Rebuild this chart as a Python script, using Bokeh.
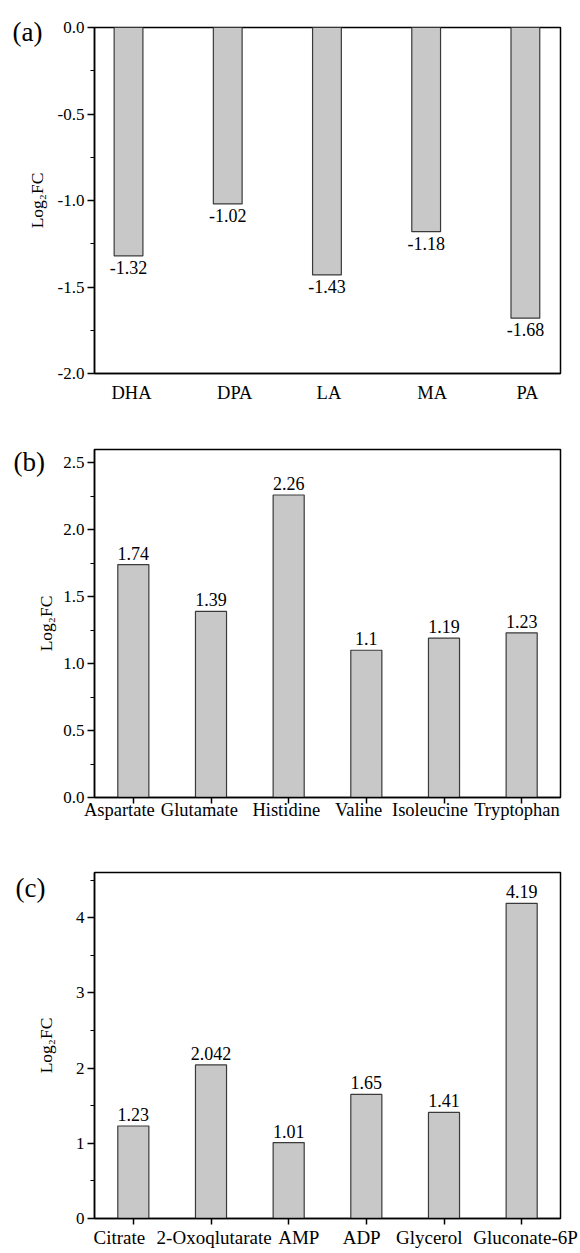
from bokeh.plotting import figure
from bokeh.layouts import column
from bokeh.models import ColumnDataSource, Range1d, FixedTicker, LinearAxis
from bokeh.core.properties import value
from bokeh.embed import file_html
from bokeh.resources import INLINE

# ---- data ----
a_cats = ["DHA", "DPA", "LA", "MA", "PA"]
a_vals = [-1.32, -1.02, -1.43, -1.18, -1.68]
a_ticks = [-2.0, -1.5, -1.0, -0.5, 0.0]
a_tick_labels = ["-2.0", "-1.5", "-1.0", "-0.5", "0.0"]

b_cats = ["Aspartate", "Glutamate", "Histidine", "Valine", "Isoleucine", "Tryptophan"]
b_vals = [1.74, 1.39, 2.26, 1.1, 1.19, 1.23]
b_ticks = [0.0, 0.5, 1.0, 1.5, 2.0, 2.5]
b_tick_labels = ["0.0", "0.5", "1.0", "1.5", "2.0", "2.5"]

c_cats = ["Citrate", "2-Oxoqlutarate", "AMP", "ADP", "Glycerol", "Gluconate-6P"]
c_vals = [1.23, 2.042, 1.01, 1.65, 1.41, 4.19]
c_ticks = [0, 1, 2, 3, 4]
c_tick_labels = ["0", "1", "2", "3", "4"]

# layout: horizontal nudges of category labels (in bar-spacing units)
a_label_shift = [0.03, 0.07, 0.02, 0.06, 0.02]
b_label_shift = [-0.18, -0.15, -0.03, -0.10, -0.18, -0.06]
c_label_shift = [-0.18, 0.04, 0.13, -0.06, -0.19, 0.05]

FONT = "Liberation Serif"
FILL = "#c8c8c8"
EDGE = "#3a3a3a"


def make_panel(cats, vals, ticks, tick_labels, shifts, yr, xr, bar_w, letter, letter_standoff,
               height, left, top, bottom, xlab_size, xticks_on, xlab_standoff, ylab_standoff, negative):
    x = list(range(len(cats)))
    src = ColumnDataSource(dict(x=x, v=vals, lab=[str(v) for v in vals]))
    p = figure(width=580, height=height, x_range=Range1d(*xr), y_range=Range1d(*yr),
               output_backend="svg", toolbar_location=None,
               min_border_left=left, min_border_right=20,
               min_border_top=top, min_border_bottom=bottom)
    p.xgrid.visible = False
    p.ygrid.visible = False
    p.outline_line_color = "black"
    p.outline_line_width = 1.5
    p.background_fill_color = "white"
    p.border_fill_color = "white"

    # panel letter as the figure title, pulled into the left margin
    p.title.text = letter
    p.title.align = "left"
    p.title.offset = 12 - left
    p.title.vertical_align = "bottom"
    p.title.standoff = letter_standoff
    p.title.text_font = FONT
    p.title.text_font_size = "27px"
    p.title.text_font_style = "normal"
    p.title.text_color = "black"

    p.vbar(x="x", top="v", bottom=0, width=bar_w, source=src,
           fill_color=FILL, line_color=EDGE, line_width=1.2)
    if negative:
        p.text(x="x", y="v", text="lab", source=src, text_align="center",
               text_baseline="top", y_offset=5, text_font=value(FONT),
               text_font_size="18px", text_color="black")
    else:
        p.text(x="x", y="v", text="lab", source=src, text_align="center",
               text_baseline="bottom", y_offset=-5, text_font=value(FONT),
               text_font_size="18px", text_color="black")

    # y axis
    step = ticks[1] - ticks[0]
    ya = p.yaxis[0]
    ya.ticker = FixedTicker(ticks=ticks,
                            minor_ticks=[t + step / 2 for t in ticks])
    ya.major_label_overrides = {t: l for t, l in zip(ticks, tick_labels)}
    ya.major_label_text_font = FONT
    ya.major_label_text_font_size = "17px"
    ya.major_label_text_color = "black"
    ya.major_tick_in = 0
    ya.major_tick_out = 7
    ya.minor_tick_in = 0
    ya.minor_tick_out = 4
    ya.major_tick_line_width = 1.5
    ya.minor_tick_line_width = 1.2
    ya.axis_line_width = 1.5
    ya.major_label_standoff = 3
    ya.axis_label = "Log\u2082FC"
    ya.axis_label_text_font = FONT
    ya.axis_label_text_font_size = "17.5px"
    ya.axis_label_text_font_style = "normal"
    ya.axis_label_text_color = "black"
    ya.axis_label_standoff = ylab_standoff

    label_pos = [i + s for i, s in zip(x, shifts)]
    xa = p.xaxis[0]
    xa.axis_line_width = 1.5
    xa.minor_tick_in = 0
    xa.minor_tick_out = 0
    xa.major_tick_in = 0
    if xticks_on:
        # inner axis: tick marks only
        xa.ticker = FixedTicker(ticks=x, minor_ticks=[])
        xa.major_label_overrides = {i: " " for i in x}
        xa.major_label_text_font_size = "1px"
        xa.major_label_text_alpha = 0
        xa.major_label_standoff = 0
        xa.major_tick_out = 6
        xa.major_tick_line_width = 1.5
        # outer axis: category names
        xb = LinearAxis(ticker=FixedTicker(ticks=label_pos, minor_ticks=[]))
        xb.major_label_overrides = {lp: c for lp, c in zip(label_pos, cats)}
        xb.axis_line_color = None
        xb.major_tick_line_color = None
        xb.minor_tick_line_color = None
        xb.major_tick_in = 0
        xb.major_tick_out = 0
        xb.minor_tick_out = 0
        xb.major_label_standoff = xlab_standoff
        xb.major_label_text_font = FONT
        xb.major_label_text_font_size = xlab_size
        xb.major_label_text_color = "black"
        p.add_layout(xb, "below")
    else:
        xa.ticker = FixedTicker(ticks=label_pos, minor_ticks=[])
        xa.major_label_overrides = {lp: c for lp, c in zip(label_pos, cats)}
        xa.major_tick_out = 0
        xa.major_tick_line_color = None
        xa.major_label_standoff = xlab_standoff
        xa.major_label_text_font = FONT
        xa.major_label_text_font_size = xlab_size
        xa.major_label_text_color = "black"
    return p


pa = make_panel(a_cats, a_vals, a_ticks, a_tick_labels, a_label_shift, (-2.0, 0.0), (-0.343, 4.354), 0.29,
                "(a)", -39, 425, 94, 27, 52, "18.5px", False, 9, 8, True)
pb = make_panel(b_cats, b_vals, b_ticks, b_tick_labels, b_label_shift, (0.0, 2.6), (-0.5, 5.5), 0.4,
                "(b)", -54, 425, 93, 24, 53, "18.5px", True, -4, 4, False)
pc = make_panel(c_cats, c_vals, c_ticks, c_tick_labels, c_label_shift, (0.0, 4.6), (-0.5, 5.5), 0.4,
                "(c)", -60, 403, 91, 22, 35, "19px", True, 2, 17, False)

layout = column(pa, pb, pc, spacing=0)
open("out.html", "w").write(file_html(layout, INLINE))
